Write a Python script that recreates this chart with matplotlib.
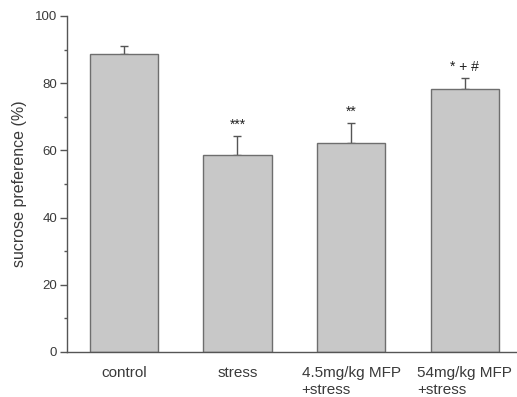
import numpy as np
import matplotlib.pyplot as plt

plt.rcParams['font.family'] = ['Liberation Sans', 'DejaVu Sans']

groups = ["control", "stress", "4.5mg/kg MFP\n+stress", "54mg/kg MFP\n+stress"]
means = [88.7, 58.6, 62.1, 78.3]
errors = [2.4, 5.7, 6.2, 3.2]
marks = ["", "***", "**", "* + #"]


def main():
    fig = plt.figure(figsize=(5.17, 3.97), dpi=100)
    ax = fig.add_axes([0.1296, 0.1134, 0.8704, 0.8463])

    x = np.arange(len(groups))
    ax.bar(x, means, width=0.6, color="#c8c8c8", edgecolor="#6e6e6e",
           linewidth=1.0, zorder=2)
    ax.errorbar(x, means, yerr=[np.zeros(len(means)), errors], fmt="none",
                ecolor="#555555", elinewidth=1.0, capsize=3, capthick=1.0,
                zorder=1)

    for xi, m, e, s in zip(x, means, errors, marks):
        if s:
            ax.annotate(s, (xi, m + e), xytext=(0, 5), textcoords="offset points",
                        ha="center", va="baseline", fontsize=10, color="#222222")

    ax.set_xlim(-0.5, 3.46)
    ax.set_ylim(0, 100)
    ax.set_yticks([0, 20, 40, 60, 80, 100])
    ax.set_yticks([10, 30, 50, 70, 90], minor=True)
    ax.set_xticks(x)
    ax.set_xticklabels(groups, fontsize=11, color="#3a3a3a", multialignment="left",
                       linespacing=1.25)
    ax.tick_params(axis="x", length=0, pad=10)
    ax.tick_params(axis="y", which="major", length=5, width=1.0, color="#555555",
                   labelsize=9.5, labelcolor="#3a3a3a", pad=2)
    ax.tick_params(axis="y", which="minor", length=2.5, width=1.0, color="#555555")

    for side in ["top", "right"]:
        ax.spines[side].set_visible(False)
    for side in ["left", "bottom"]:
        ax.spines[side].set_color("#555555")
        ax.spines[side].set_linewidth(1.0)

    ax.set_ylabel("sucrose preference (%)", fontsize=11.5, color="#3a3a3a")
    ax.yaxis.set_label_coords(-0.09, 0.5)

    fig.savefig("out.png", dpi=100)


if __name__ == "__main__":
    main()
